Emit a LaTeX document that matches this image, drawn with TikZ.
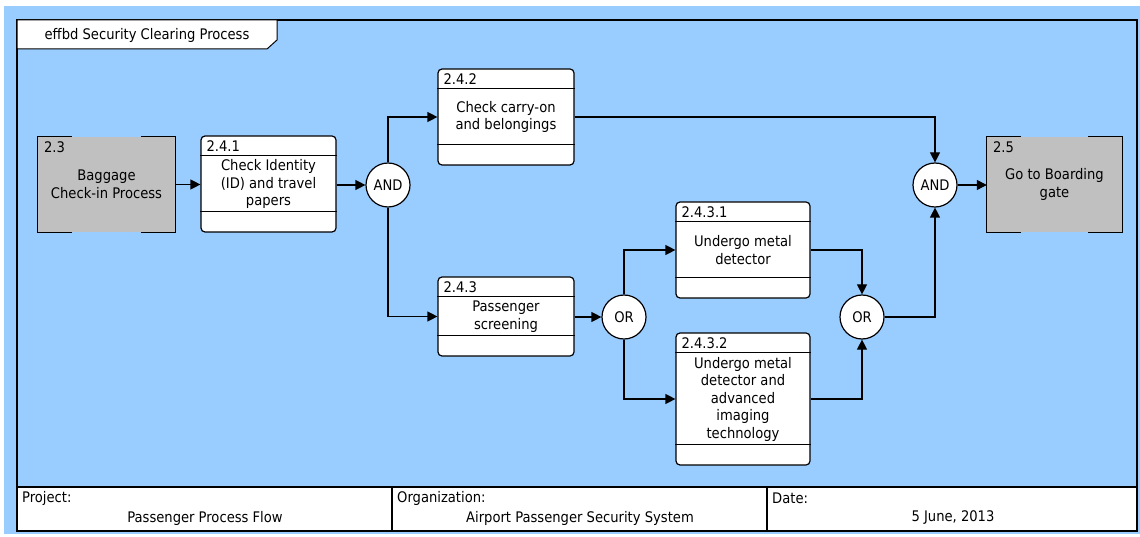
\documentclass[tikz,border=0pt]{standalone}
\usepackage{fontspec}
\setmainfont{DejaVu Sans Condensed}
\usetikzlibrary{arrows.meta}
\definecolor{bg}{HTML}{99CCFF}
\definecolor{extgray}{HTML}{C0C0C0}
\begin{document}
\begin{tikzpicture}[x=1pt,y=-1pt,
  font=\fontsize{14.6}{17.5}\selectfont,
  func/.style={draw, fill=white, rounded corners=4pt, line width=1.2pt,
    minimum width=135pt, minimum height=96pt, align=center, inner sep=0pt},
  gate/.style={circle, draw, fill=white, line width=1.2pt,
    minimum size=44pt, inner sep=0pt},
  extfn/.style={fill=extgray, minimum width=137pt, minimum height=95pt,
    align=center, inner sep=0pt},
  flow/.style={line width=1.2pt, -{Triangle[length=10pt,width=10pt]}},
  rule/.style={line width=1.2pt},
  num/.style={anchor=north west, inner sep=0pt, xshift=6pt, yshift=-5pt},
  foot/.style={inner sep=0pt}
]
\useasboundingbox (0,0) rectangle (1140,537);

% background and outer frame
\fill[bg] (4,6) rectangle (1140,534);
\draw[line width=2pt, fill=bg] (17,20) rectangle (1137,531);

% title tab
\draw[fill=white, line width=1pt] (17,20) -- (277,20) -- (277,40) -- (267,49) -- (17,49) -- cycle;
\node (title) at (147,35) {effbd Security Clearing Process};

% external functions
\node[extfn] (b23) at (106.5,184.5) {Baggage\\Check-in Process};
\node[extfn, minimum width=135pt] (b25) at (1054.5,184.5) {Go to Boarding\\gate};
\foreach \b in {b23,b25}{
  \draw[rule] ([xshift=34pt]\b.north west) -- (\b.north west) -- (\b.south west) -- ([xshift=34pt]\b.south west);
  \draw[rule] ([xshift=-34pt]\b.north east) -- (\b.north east) -- (\b.south east) -- ([xshift=-34pt]\b.south east);
}
\node[num] (n23) at (b23.north west) {2.3};
\node[num] (n25) at (b25.north west) {2.5};

% functions
\node[func] (f241) at (268.5,184) {Check Identity\\(ID) and travel\\papers};
\node[func, minimum width=136pt] (f242) at (506,117) {Check carry-on\\and belongings};
\node[func, minimum width=136pt, minimum height=79pt] (f243) at (506,316.5) {Passenger\\screening};
\node[func, minimum width=134pt] (f2431) at (743,250) {Undergo metal\\detector};
\node[func, minimum width=134pt, minimum height=132pt] (f2432) at (743,399) {Undergo metal\\detector and\\advanced\\imaging\\technology};

\foreach \f/\t in {f241/2.4.1, f242/2.4.2, f243/2.4.3, f2431/2.4.3.1, f2432/2.4.3.2}{
  \draw[rule] ([yshift=-20pt]\f.north west) -- ([yshift=-20pt]\f.north east);
  \draw[rule] ([yshift=21pt]\f.south west) -- ([yshift=21pt]\f.south east);
  \node[num] at (\f.north west) {\t};
}

% logic gates
\node[gate] (and1) at (388,185) {AND};
\node[gate] (or1) at (624,317) {OR};
\node[gate] (or2) at (862,317) {OR};
\node[gate] (and2) at (935,185) {AND};

% flows
\draw[flow] (b23.east) -- (f241.west |- b23.east);
\draw[flow] (f241.east |- and1.west) -- (and1.west);
\draw[flow] (and1.north) |- (f242.west);
\draw[flow] (and1.south) |- (f243.west);
\draw[flow] (f243.east |- or1.west) -- (or1.west);
\draw[flow] (or1.north) |- (f2431.west);
\draw[flow] (or1.south) |- (f2432.west);
\draw[flow] (f2431.east) -| (or2.north);
\draw[flow] (f2432.east) -| (or2.south);
\draw[flow] (or2.east) -| (and2.south);
\draw[flow] (f242.east) -| (and2.north);
\draw[flow] (and2.east) -- (b25.west |- and2.east);

% title block
\draw[line width=2pt, fill=white] (17,487) rectangle (1137,531);
\draw[line width=2pt] (392,487) -- (392,531) (767,487) -- (767,531);
\node[foot, anchor=west] (projl) at (22,498) {Project:};
\node[foot] (projv) at (205,518) {Passenger Process Flow};
\node[foot, anchor=west] (orgl) at (397,498) {Organization:};
\node[foot] (orgv) at (580,518) {Airport Passenger Security System};
\node[foot, anchor=west] (datel) at (772,498) {Date:};
\node[foot] (datev) at (953,518) {5 June, 2013};
\end{tikzpicture}
\end{document}
